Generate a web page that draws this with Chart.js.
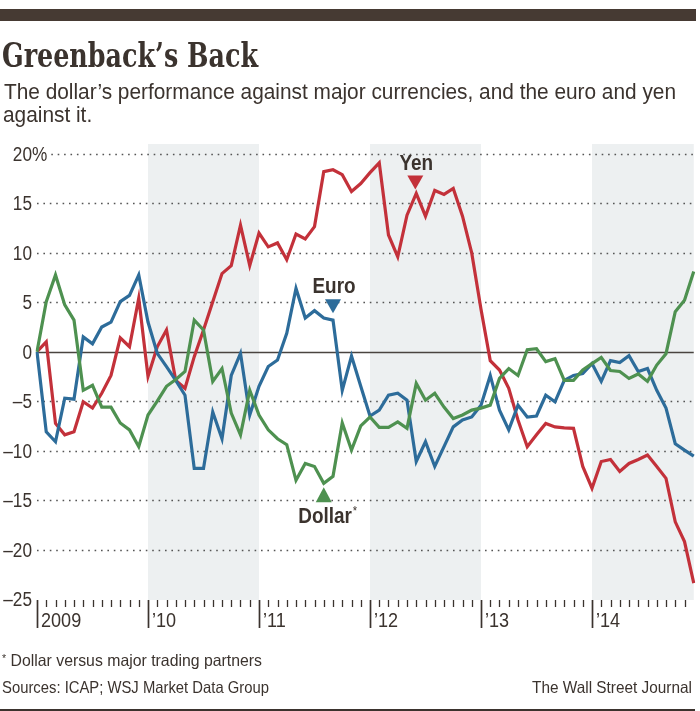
<!DOCTYPE html>
<html><head><meta charset="utf-8">
<script src="https://cdn.jsdelivr.net/npm/chart.js@4.4.1/dist/chart.umd.min.js"></script>
<style>
html,body{margin:0;padding:0;background:#fff;}
#wrap{position:relative;width:700px;height:711px;overflow:hidden;background:#fff;}
#c{position:absolute;left:0;top:0;}
.t{position:absolute;white-space:nowrap;color:#3b332e;transform-origin:0 0;line-height:1;}
.sans{font-family:"Liberation Sans",Arial,sans-serif;}
#bar{position:absolute;left:0;top:9px;width:696px;height:12px;background:#463a33;}
#bline{position:absolute;left:0;top:709px;width:695px;height:1.5px;background:#3b332e;}
</style></head>
<body>
<div id="wrap">
<canvas id="c" width="700" height="711"></canvas>
<div id="bar"></div>
<div class="t" id="title" data-w="256" style="left:2px;top:38px;font-family:'DejaVu Serif Condensed','DejaVu Serif',serif;font-weight:bold;font-stretch:condensed;font-size:34px;">Greenback’s Back</div>
<div class="t sans" id="sub1" data-w="672" style="left:4px;top:81px;font-size:22px;">The dollar’s performance against major currencies, and the euro and yen</div>
<div class="t sans" id="sub2" data-same="sub1" style="left:3px;top:104px;font-size:22px;">against it.</div>
<div class="t sans" id="f1" data-w="260" style="left:2px;top:652px;font-size:16.5px;"><span style="font-size:11px;vertical-align:4px;">*</span> Dollar versus major trading partners</div>
<div class="t sans" id="f2" data-w="267" style="left:2px;top:679px;font-size:16.5px;">Sources: ICAP; WSJ Market Data Group</div>
<div class="t sans" id="f3" data-w="160" data-right="692" style="left:532px;top:679px;font-size:16.5px;">The Wall Street Journal</div>
<div id="bline"></div>
</div>
<script>
// ---- data ----
const years = ['2009','2010','2011','2012','2013','2014'];
const yearLabels = ['2009','\u201910','\u201911','\u201912','\u201913','\u201914'];
const shadedYears = ['2010','2012','2014'];
const monthNums = ['01','02','03','04','05','06','07','08','09','10','11','12'];
const months = years.flatMap(y => monthNums.map(m => y + '-' + m));
const yTicks = [20,15,10,5,0,-5,-10,-15,-20,-25];

const dollar = [0,5.06,7.76,4.73,3.2,-3.9,-3.4,-5.6,-5.6,-7.2,-7.9,-9.6,
  -6.4,-5.0,-3.5,-2.8,-2.0,3.2,2.2,-3.0,-1.7,-6.2,-8.4,-3.9,
  -6.4,-7.9,-8.8,-9.4,-13.0,-11.3,-11.6,-13.3,-12.6,-7.2,-9.95,-7.5,
  -6.6,-7.65,-7.65,-7.1,-7.75,-3.2,-4.9,-4.2,-5.6,-6.75,-6.4,-5.9,
  -5.7,-5.4,-2.7,-1.7,-2.4,0.2,0.3,-1.0,-0.7,-2.9,-2.9,-1.85,
  -1.2,-0.57,-1.9,-2.0,-2.7,-2.25,-3.0,-1.35,-0.2,4.05,5.2,8.1];
const euro = [0,-8.1,-9.1,-4.7,-4.8,1.5,0.8,2.5,3.0,5.06,5.7,7.76,
  3.0,-0.16,-1.5,-2.9,-4.4,-11.8,-11.8,-6.1,-8.8,-2.4,-0.16,-6.4,
  -3.5,-1.5,-0.84,1.86,6.4,3.4,4.15,3.4,3.2,-3.9,-0.43,-3.5,
  -6.5,-5.9,-4.4,-4.2,-4.9,-11.1,-9.1,-11.6,-9.6,-7.6,-6.9,-6.6,
  -5.4,-2.4,-5.9,-7.9,-5.4,-6.6,-6.5,-4.4,-5.06,-2.9,-2.4,-2.2,
  -1.2,-3.0,-0.9,-1.1,-0.4,-2.0,-1.7,-3.9,-5.7,-9.3,-9.95,-10.55];
const yen = [0,1.0,-7.25,-8.4,-8.1,-5.06,-5.7,-4.2,-2.4,1.4,0.5,5.4,
  -2.5,0.5,2.2,-2.9,-3.7,-0.5,2.2,5.06,7.9,8.7,12.8,8.7,
  12.0,10.6,11.0,9.3,11.9,11.4,12.65,18.2,18.4,17.9,16.2,17.0,
  18.1,19.1,11.8,9.6,13.8,16.0,13.7,16.3,15.9,16.5,13.7,9.96,
  4.3,-0.9,-1.85,-3.7,-6.9,-9.6,-8.4,-7.25,-7.6,-7.7,-7.75,-11.6,
  -13.8,-11.1,-10.9,-12.1,-11.3,-10.9,-10.45,-11.6,-12.8,-17.2,-19.2,-23.4];

const GREEN = '#4e9150', BLUE = '#2d6c9a', RED = '#c3313a', INK = '#3b332e';
const markers = [
  {text:'Yen', i:40.9, v:16.4, dir:'down', color:RED},
  {text:'Euro', i:32.0, v:3.9, dir:'down', color:BLUE},
  {text:'Dollar', star:true, i:31.0, v:-13.7, dir:'up', color:GREEN}
];
const SANS = '"Liberation Sans",Arial,sans-serif';
const NARROW = 0.86;

// draw horizontally condensed text; returns drawn width
function ntext(ctx, s, x, y, align, font) {
  ctx.save();
  ctx.font = font;
  const w = ctx.measureText(s).width * NARROW;
  let lx = x;
  if (align === 'right') lx = x - w;
  else if (align === 'center') lx = x - w / 2;
  ctx.translate(lx, y);
  ctx.scale(NARROW, 1);
  ctx.textAlign = 'left';
  ctx.fillText(s, 0, 0);
  ctx.restore();
  return w;
}

const deco = {
  id:'deco',
  beforeDatasetsDraw(chart){
    const {ctx, chartArea:a, scales:{x,y}} = chart;
    const yb = y.getPixelForValue(-25);
    ctx.save();
    ctx.fillStyle = '#edf0f1';
    shadedYears.forEach(yr => {
      const i0 = months.indexOf(yr + '-01');
      const x0 = x.getPixelForValue(i0);
      const x1 = (i0 + 12 < months.length) ? x.getPixelForValue(i0 + 12) : a.right;
      ctx.fillRect(x0, a.top, x1 - x0, yb - a.top + 1);
    });
    ctx.textBaseline = 'middle';
    const tickFont = '20px ' + SANS;
    yTicks.forEach(v => {
      const py = Math.round(y.getPixelForValue(v));
      const lab = v < 0 ? '\u2013' + Math.abs(v) : String(v);
      ctx.fillStyle = INK;
      ntext(ctx, lab, a.left - 5, py + 1, 'right', tickFont);
      let startX = a.left;
      if (v === yTicks[0]) {
        const w = ntext(ctx, '%', a.left - 5, py + 1, 'left', tickFont);
        startX = a.left - 5 + w + 4;
      }
      if (v === 0) {
        ctx.strokeStyle = '#4a4440'; ctx.lineWidth = 1.6; ctx.setLineDash([]);
        ctx.beginPath(); ctx.moveTo(a.left, py + 0.5); ctx.lineTo(a.right, py + 0.5); ctx.stroke();
      } else if (v !== -25) {
        ctx.strokeStyle = '#555'; ctx.lineWidth = 1.6; ctx.setLineDash([1.6, 4.8]);
        ctx.beginPath(); ctx.moveTo(startX, py + 0.5); ctx.lineTo(a.right, py + 0.5); ctx.stroke();
      }
    });
    ctx.setLineDash([]);
    const base = yb + 1;
    ctx.strokeStyle = INK;
    for (let i = 0; i < months.length - 1; i++) {
      const px = Math.round(x.getPixelForValue(i)) + 0.5;
      const isYear = i % 12 === 0;
      ctx.lineWidth = isYear ? 1.7 : 1.3;
      ctx.beginPath(); ctx.moveTo(px, base); ctx.lineTo(px, base + (isYear ? 28 : 7)); ctx.stroke();
    }
    ctx.fillStyle = INK; ctx.textBaseline = 'alphabetic';
    yearLabels.forEach((lab, k) => {
      const px = x.getPixelForValue(k * 12);
      ntext(ctx, lab, px + 4, base + 27, 'left', '21px ' + SANS);
    });
    ctx.restore();
  },
  afterDatasetsDraw(chart){
    const {ctx, scales:{x,y}} = chart;
    ctx.save();
    markers.forEach(m => {
      const tx = x.getPixelForValue(m.i), ty = y.getPixelForValue(m.v);
      ctx.fillStyle = m.color;
      ctx.beginPath();
      if (m.dir === 'down') {
        ctx.moveTo(tx, ty); ctx.lineTo(tx - 8, ty - 14); ctx.lineTo(tx + 8, ty - 14);
      } else {
        ctx.moveTo(tx, ty); ctx.lineTo(tx - 8, ty + 15); ctx.lineTo(tx + 8, ty + 15);
      }
      ctx.closePath(); ctx.fill();
      ctx.fillStyle = INK;
      ctx.textBaseline = 'alphabetic';
      const f = 'bold 22px ' + SANS;
      if (m.dir === 'down') {
        ntext(ctx, m.text, tx + 1, ty - 20, 'center', f);
      } else {
        const lx = tx - 25.5;
        const w = ntext(ctx, m.text, lx, ty + 36, 'left', f);
        if (m.star) ntext(ctx, '*', lx + w + 1, ty + 28, 'left', '13px ' + SANS);
      }
    });
    ctx.restore();
  }
};

new Chart(document.getElementById('c'), {
  type:'line',
  data:{labels:months, datasets:[
    {label:'Dollar', data:dollar, borderColor:GREEN},
    {label:'Euro', data:euro, borderColor:BLUE},
    {label:'Yen', data:yen, borderColor:RED}
  ]},
  options:{
    responsive:false, animation:false, devicePixelRatio:1,
    layout:{padding:{left:37, right:6.25, top:144, bottom:112}},
    plugins:{legend:{display:false}, tooltip:{enabled:false}},
    elements:{point:{radius:0}, line:{borderWidth:3.2, tension:0, fill:false}},
    scales:{
      x:{type:'category', display:false, offset:false},
      y:{type:'linear', display:false, min:-25, max:21}
    }
  },
  plugins:[deco]
});

const scales = {};
document.querySelectorAll('.t').forEach(el => {
  const w = el.getBoundingClientRect().width;
  let s = 1;
  if (el.dataset.w) s = parseFloat(el.dataset.w) / w;
  else if (el.dataset.same) s = scales[el.dataset.same] || 1;
  scales[el.id] = s;
  el.style.transform = 'scaleX(' + s + ')';
  if (el.dataset.right) el.style.left = (parseFloat(el.dataset.right) - w * s) + 'px';
});
</script>
</body></html>
